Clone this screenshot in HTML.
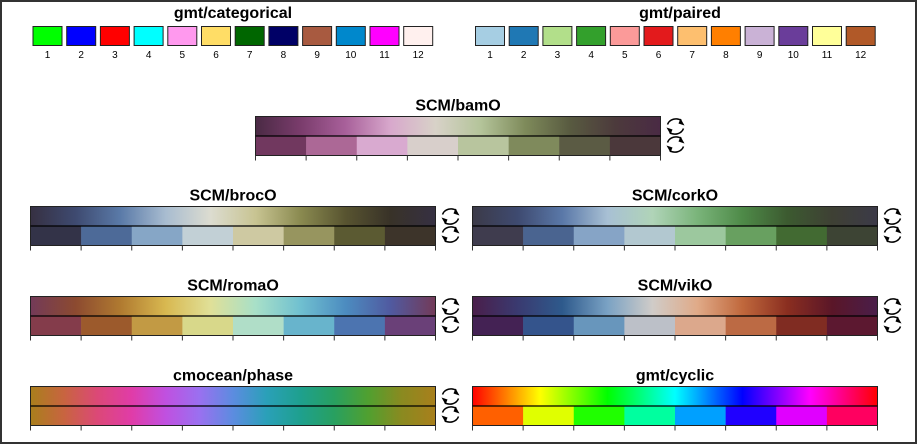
<!DOCTYPE html>
<html><head><meta charset="utf-8"><style>
html,body{margin:0;padding:0;background:#fff}
svg{display:block;font-family:"Liberation Sans",sans-serif}
</style></head><body>
<svg id="chart" width="917" height="444" viewBox="0 0 917 444">
<rect x="1" y="1" width="915" height="442" fill="#fff" stroke="#333" stroke-width="2"/>
</svg>
<script>
const NS='http://www.w3.org/2000/svg';
const svg=document.getElementById('chart');
// ---- data ----
const categoricalColors=['#00ff00','#0000ff','#ff0000','#00ffff','#ff99ee','#ffdd66','#006600','#000066','#a85a40','#0088cc','#ff00ff','#fff0ee'];
const pairedColors=['#a6cee3','#1f78b4','#b2df8a','#33a02c','#fb9a99','#e31a1c','#fdbf6f','#ff7f00','#cab2d6','#6a3d9a','#ffff99','#b15928'];
const swatchLabels=['1','2','3','4','5','6','7','8','9','10','11','12'];
const bamOStops=['#4a2a44','#7a3c6c','#a8609a','#d8a8cc','#d8d2c8','#b4c49a','#7e8a5a','#585a40','#4c3a3c','#4a2a44'];
const bamODiscrete=['#71385f','#ac6896','#d9aad0','#d8cfcb','#b8c59e','#7f8a5c','#5b5b44','#4b383b'];
const brocOStops=['#363042','#3e4a70','#5a7aa8','#a8bcd0','#dcdcd0','#c8c492','#8a8a50','#585430','#383228','#363042'];
const brocODiscrete=['#333348','#4d6a98','#86a6c6','#c2d0d6','#cec9a2','#97955f','#5b5a32','#3d342a'];
const corkOStops=['#3c3a48','#3e4a70','#5a78a8','#a8c0d4','#b0d4b8','#7ab47a','#4e8a48','#3c5a30','#3e4034','#3c3a48'];
const corkODiscrete=['#3f3c4e','#4a6490','#86a4c6','#b2c8d0','#9cc89e','#68a060','#426a32','#3d4434'];
const romaOStops=['#733a58','#8c4a30','#b07a30','#d8b850','#e0e098','#a8e0c8','#70c0d0','#4c8cc0','#505aa0','#733a58'];
const romaODiscrete=['#843c4b','#9c5a2c','#c29a44','#d8d88a','#b0dec8','#68b4cc','#4c74b0','#6a4078'];
const vikOStops=['#4a1e4a','#3a3a70','#2e5a8c','#7aa2c4','#d0ccc8','#e0aa88','#c0683c','#8a2e20','#5a1628','#4a1e4a'];
const vikODiscrete=['#442254','#34548c','#6896bc','#bcc0c8','#dca88c','#bc6a44','#802c22','#5c1830'];
const phaseStops=['#a97f1c','#c86440','#dc4878','#e03ca8','#c050e0','#9a70f0','#5c8ce0','#2aa0b8','#1ea08e','#28a060','#50a030','#8a8a20','#a97f1c'];
const cyclicStops=['#ff0000','#ffff00','#00ff00','#00ffff','#0000ff','#ff00ff','#ff0000'];
const cyclicDiscrete=['#ff6000','#e0ff00','#20ff00','#00ff9f','#00a0ff','#2000ff','#e000ff','#ff0060'];
// ---- helpers ----
function el(tag,attrs,parent){const e=document.createElementNS(NS,tag);for(const k in attrs)e.setAttribute(k,attrs[k]);(parent||svg).appendChild(e);return e;}
const defs=el('defs',{});
function title(txt,cx,y,name){const t=el('text',{x:cx,y:y,'text-anchor':'middle','font-size':'16','font-weight':'bold',fill:'#000'});t.textContent=txt;

}
function swatches(colors,x0,name){
  const g=el('g',{});
  
  
  colors.forEach((c,i)=>{const x=x0+i*33.7;
    const r=el('rect',{x:x,y:26.5,width:29,height:19,fill:c,stroke:'#222','stroke-width':1},g);
    
    
    const t=el('text',{x:x+14.5,y:58,'text-anchor':'middle','font-size':'10',fill:'#000'},g);t.textContent=swatchLabels[i];
    
    
  });
}
let gid=0;
function gradient(stops){const id='g'+(gid++);const lg=el('linearGradient',{id:id,x1:0,x2:1,y1:0,y2:0},defs);
stops.forEach((c,i)=>el('stop',{offset:i/(stops.length-1),'stop-color':c},lg));return 'url(#'+id+')';}
function cycleIcon(x,y,g){
  [y+10,y+28].forEach(cy=>{
    el('path',{d:`M${x-8} ${cy-2} A9 8 0 0 1 ${x+6} ${cy-6}`,fill:'none',stroke:'#000','stroke-width':1.5},g);
    el('path',{d:`M${x+8} ${cy+2} A9 8 0 0 1 ${x-6} ${cy+6}`,fill:'none',stroke:'#000','stroke-width':1.5},g);
    el('path',{d:`M${x+5} ${cy-8} L${x+9} ${cy-1} L${x+3} ${cy-3}Z`,fill:'#000'},g);
    el('path',{d:`M${x-5} ${cy+8} L${x-9} ${cy+1} L${x-3} ${cy+3}Z`,fill:'#000'},g);
  });
}
function bar(name,x,y,stops,discrete,bottomStops,cyc){
  const w=405,h=19.5;
  const g=el('g',{});
  
  
  title(name,x+w/2,y-6,name.replace('/','-')+'-title');
  const top=el('rect',{x:x,y:y,width:w,height:h,fill:gradient(stops)},g);
  
  
  if(discrete){const n=discrete.length;discrete.forEach((c,i)=>{
    const r=el('rect',{x:x+i*w/n,y:y+h,width:w/n+0.3,height:h,fill:c},g);
    
    });}
  else{const r=el('rect',{x:x,y:y+h,width:w,height:h,fill:gradient(bottomStops)},g);
    
    }
  el('rect',{x:x,y:y,width:w,height:2*h,fill:'none',stroke:'#222','stroke-width':1},g);
  el('line',{x1:x,x2:x+w,y1:y+h,y2:y+h,stroke:'#000','stroke-width':1.3},g);
  for(let i=0;i<=8;i++){const tx=x+i*w/8;el('line',{x1:tx,x2:tx,y1:y+2*h,y2:y+2*h+5,stroke:'#333','stroke-width':1},g);}
  if(cyc){const ci=el('g',{},g);
    
    
    cycleIcon(x+w+15,y,ci);}
}
// ---- build ----
title('gmt/categorical',233,18,'categorical-title');
swatches(categoricalColors,33,'categorical');
title('gmt/paired',680,18,'paired-title');
swatches(pairedColors,475.5,'paired');
bar('SCM/bamO',255.5,116.5,bamOStops,bamODiscrete,null,true);
bar('SCM/brocO',30.5,206.5,brocOStops,brocODiscrete,null,true);
bar('SCM/corkO',472.5,206.5,corkOStops,corkODiscrete,null,true);
bar('SCM/romaO',30.5,296.5,romaOStops,romaODiscrete,null,true);
bar('SCM/vikO',472.5,296.5,vikOStops,vikODiscrete,null,true);
bar('cmocean/phase',30.5,386.5,phaseStops,null,phaseStops,true);
bar('gmt/cyclic',472.5,386.5,cyclicStops,cyclicDiscrete,null,false);
</script>
</body></html>
